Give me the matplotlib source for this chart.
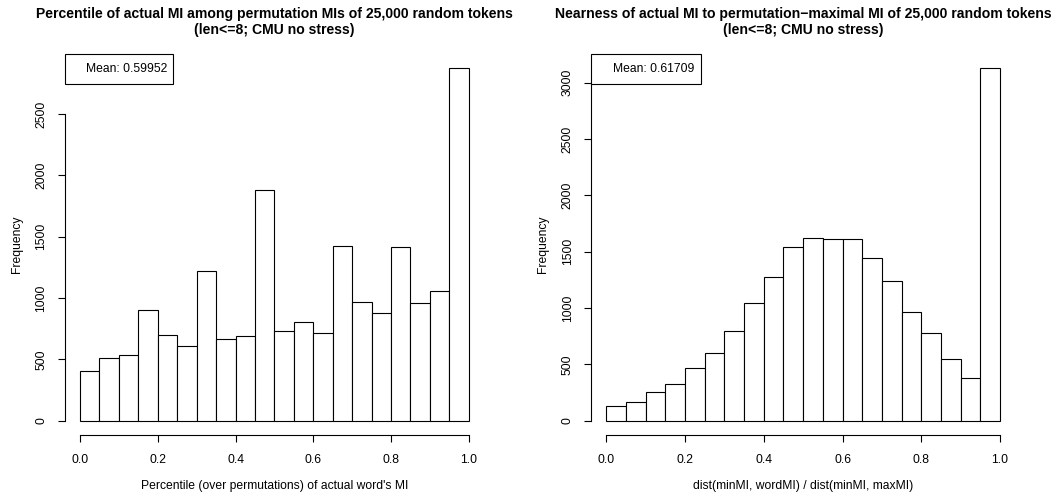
import numpy as np
import matplotlib
matplotlib.use("Agg")
import matplotlib.pyplot as plt
from matplotlib.patches import Rectangle

plt.rcParams['font.family'] = ['Liberation Sans', 'DejaVu Sans']

# ---- data ----
bin_width = 0.05
left_counts = [405, 508, 533, 899, 696, 611, 1220, 663, 693, 1877,
               734, 804, 717, 1427, 970, 875, 1418, 956, 1054, 2877]
right_counts = [130, 163, 257, 328, 470, 598, 799, 1042, 1275, 1545,
                1624, 1610, 1610, 1444, 1240, 968, 781, 544, 376, 3134]
left_mean = "0.59952"
right_mean = "0.61709"
left_title = "Percentile of actual MI among permutation MIs of 25,000 random tokens\n(len<=8; CMU no stress)"
right_title = "Nearness of actual MI to permutation\u2212maximal MI of 25,000 random tokens\n(len<=8; CMU no stress)"
left_xlabel = "Percentile (over permutations) of actual word's MI"
right_xlabel = "dist(minMI, wordMI) / dist(minMI, maxMI)"
ylabel = "Frequency"
xticks = [0.0, 0.2, 0.4, 0.6, 0.8, 1.0]
left_yticks = [0, 500, 1000, 1500, 2000, 2500]
right_yticks = [0, 500, 1000, 1500, 2000, 2500, 3000]

W, H = 1053, 498
fig = plt.figure(figsize=(W / 100, H / 100), dpi=100)

FS = 8.7
TFS = 10.1


def panel(rect, counts, mean, title, xlabel, yticks):
    ax = fig.add_axes(rect)
    n = len(counts)
    lefts = np.arange(n) * bin_width
    ax.bar(lefts, counts, width=bin_width, align='edge', facecolor='white',
           edgecolor='black', linewidth=0.8)
    mx = max(counts)
    ax.set_xlim(-0.04, 1.04)
    ax.set_ylim(-0.04 * mx, 1.04 * mx)
    for s in ['top', 'right']:
        ax.spines[s].set_visible(False)
    ax.spines['left'].set_bounds(yticks[0], yticks[-1])
    ax.spines['bottom'].set_bounds(xticks[0], xticks[-1])
    for s in ['left', 'bottom']:
        ax.spines[s].set_linewidth(0.8)
    ax.set_xticks(xticks)
    ax.set_xticklabels([f"{t:.1f}" for t in xticks])
    ax.set_yticks(yticks)
    ax.set_yticklabels([str(t) for t in yticks], rotation=90, va='center')
    ax.tick_params(axis='both', direction='out', length=5.2, width=0.8,
                   labelsize=FS, colors='black')
    ax.tick_params(axis='x', pad=8.5)
    ax.tick_params(axis='y', pad=7)
    ax.set_xlabel(xlabel, fontsize=FS, labelpad=10)
    ax.set_ylabel(ylabel, fontsize=FS, labelpad=9)
    ax.set_title(title, fontsize=TFS, fontweight='bold', pad=14, linespacing=1.2)
    # legend box (text only)
    ax.add_patch(Rectangle((0, 1 - 0.079), 0.259, 0.079, transform=ax.transAxes,
                           facecolor='white', edgecolor='black', linewidth=0.8,
                           clip_on=False, zorder=5))
    ax.text(0.244, 1 - 0.0395, f"Mean: {mean}", transform=ax.transAxes,
            ha='right', va='center', fontsize=FS, zorder=6)
    return ax


b = (498 - 434.8) / H
h = (434.8 - 53.6) / H
panel([64.5 / W, b, 419.8 / W, h], left_counts, left_mean, left_title, left_xlabel, left_yticks)
panel([590.6 / W, b, 425.1 / W, h], right_counts, right_mean, right_title, right_xlabel, right_yticks)

fig.savefig("out.png", dpi=100)
